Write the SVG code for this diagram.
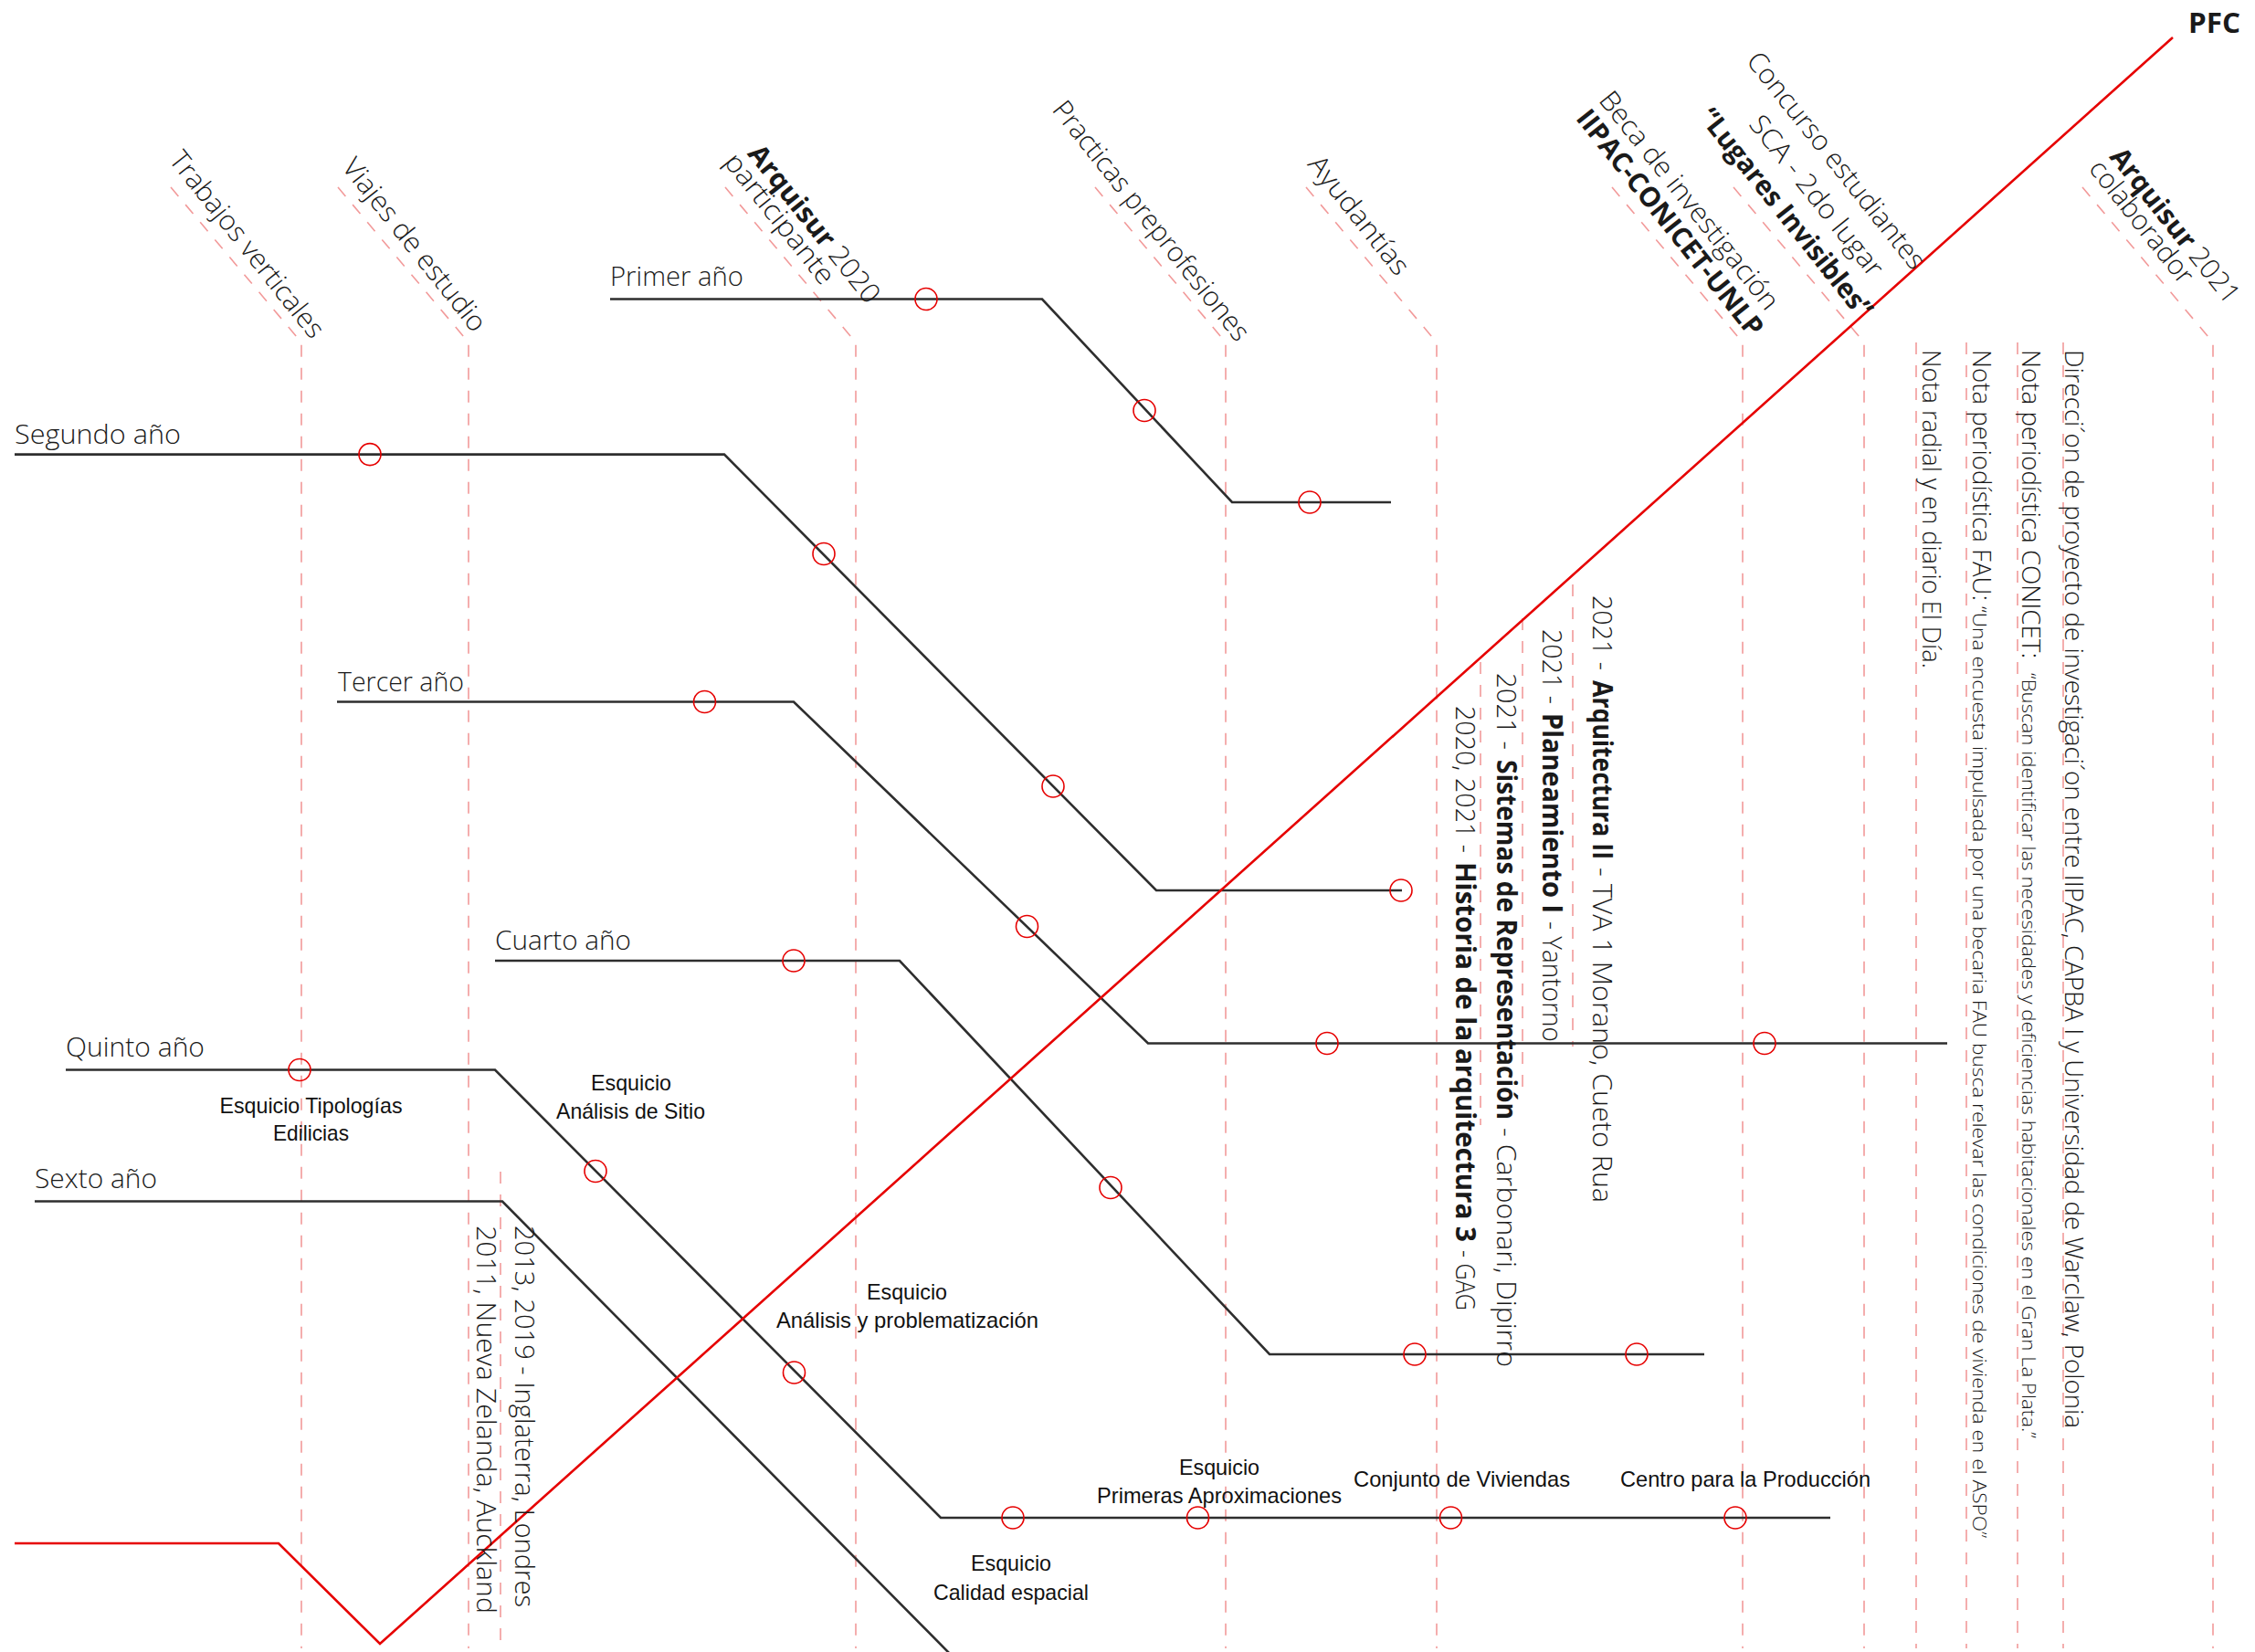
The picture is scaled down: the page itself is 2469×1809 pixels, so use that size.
<svg xmlns="http://www.w3.org/2000/svg" width="2469" height="1809" viewBox="0 0 2469 1809">
<style>
.guide{fill:none;stroke:#f29a9a;stroke-width:1.6;stroke-dasharray:13 12}
.yr{fill:none;stroke:#2e2e2e;stroke-width:2.6;stroke-linejoin:miter}
.pfc{fill:none;stroke:#e60000;stroke-width:2.6}
.dot{fill:none;stroke:#e60000;stroke-width:1.6}
text{font-family:"Open Sans","Liberation Sans",sans-serif;fill:#1a1a1a}
.lt{font-weight:300;font-size:30px}
.b{font-weight:700}
.esq{font-family:"Liberation Sans",sans-serif;font-size:24px;fill:#111;text-anchor:middle}
.vt{font-weight:300;font-size:30px}
.nt{font-weight:300;font-size:28px}
.sm{font-size:21px}
</style>

<g id="guides">
<path class="guide" d="M187,205 L330,375 V1805"/>
<path class="guide" d="M370,205 L513,375 V1805"/>
<path class="guide" d="M794,205 L937,375 V1805"/>
<path class="guide" d="M1199,205 L1342,375 V1805"/>
<path class="guide" d="M1430,205 L1573,375 V1805"/>
<path class="guide" d="M1765,205 L1908,375 V1805"/>
<path class="guide" d="M1898,205 L2041,375 V1805"/>
<path class="guide" d="M2280,205 L2423,375 V1805"/>
<path class="guide" d="M2098,375 V1805"/>
<path class="guide" d="M2153,375 V1805"/>
<path class="guide" d="M2209,375 V1805"/>
<path class="guide" d="M2259,375 V1805"/>
<path class="guide" d="M548,1283 V1805"/>
<path class="guide" d="M1722,640 V1146"/>
<path class="guide" d="M1667,677 V1190"/>
<path class="guide" d="M1621,725 V1232"/>
</g>

<g id="connectors">
<polyline id="line-primer" class="yr" points="668,327.5 1141,327.5 1349,550 1523,550"/>
<polyline id="line-segundo" class="yr" points="16,497.6 793,497.6 1266,975 1535,975"/>
<polyline id="line-tercer" class="yr" points="369,768.5 869,768.5 1257,1142.5 2132,1142.5"/>
<polyline id="line-cuarto" class="yr" points="542,1052 985,1052 1390,1483 1866,1483"/>
<polyline id="line-quinto" class="yr" points="72,1171.5 542,1171.5 1030,1662 2004,1662"/>
<polyline id="line-sexto" class="yr" points="38,1315.5 550,1315.5 1045,1816"/>
<polyline id="line-pfc" class="pfc" points="16,1690 305,1690 416,1800 2379,41"/>
</g>

<g id="milestones">
<circle class="dot" cx="1014" cy="327.5" r="12"/>
<circle class="dot" cx="1253" cy="449.5" r="12"/>
<circle class="dot" cx="1434" cy="550" r="12"/>
<circle class="dot" cx="405" cy="497.6" r="12"/>
<circle class="dot" cx="902" cy="606.5" r="12"/>
<circle class="dot" cx="1153" cy="861" r="12"/>
<circle class="dot" cx="1534" cy="975" r="12"/>
<circle class="dot" cx="771.5" cy="768.5" r="12"/>
<circle class="dot" cx="1124.5" cy="1014.5" r="12"/>
<circle class="dot" cx="1453" cy="1142.5" r="12"/>
<circle class="dot" cx="1932" cy="1142.5" r="12"/>
<circle class="dot" cx="869" cy="1052" r="12"/>
<circle class="dot" cx="1216" cy="1300.5" r="12"/>
<circle class="dot" cx="1549" cy="1483" r="12"/>
<circle class="dot" cx="1792" cy="1483" r="12"/>
<circle class="dot" cx="328" cy="1171.5" r="12"/>
<circle class="dot" cx="652" cy="1282.5" r="12"/>
<circle class="dot" cx="869.5" cy="1503" r="12"/>
<circle class="dot" cx="1109" cy="1662" r="12"/>
<circle class="dot" cx="1311.5" cy="1662" r="12"/>
<circle class="dot" cx="1588.5" cy="1662" r="12"/>
<circle class="dot" cx="1900" cy="1662" r="12"/>
</g>

<g id="year-labels">
<text class="lt" x="668" y="313" textLength="146" lengthAdjust="spacingAndGlyphs">Primer año</text>
<text class="lt" x="16" y="486" textLength="182" lengthAdjust="spacingAndGlyphs">Segundo año</text>
<text class="lt" x="370" y="757" textLength="138" lengthAdjust="spacingAndGlyphs">Tercer año</text>
<text class="lt" x="542" y="1040" textLength="149" lengthAdjust="spacingAndGlyphs">Cuarto año</text>
<text class="lt" x="72" y="1157" textLength="152" lengthAdjust="spacingAndGlyphs">Quinto año</text>
<text class="lt" x="38" y="1301" textLength="134" lengthAdjust="spacingAndGlyphs">Sexto año</text>
</g>

<g id="esquicios">
<text class="esq" x="340.5" y="1218.6" textLength="200" lengthAdjust="spacingAndGlyphs">Esquicio Tipologías</text>
<text class="esq" x="340.5" y="1249" textLength="83" lengthAdjust="spacingAndGlyphs">Edilicias</text>
<text class="esq" x="691" y="1194" textLength="88" lengthAdjust="spacingAndGlyphs">Esquicio</text>
<text class="esq" x="690.5" y="1225" textLength="163" lengthAdjust="spacingAndGlyphs">Análisis de Sitio</text>
<text class="esq" x="993" y="1422.6" textLength="88" lengthAdjust="spacingAndGlyphs">Esquicio</text>
<text class="esq" x="993.5" y="1454" textLength="287" lengthAdjust="spacingAndGlyphs">Análisis y problematización</text>
<text class="esq" x="1107" y="1720" textLength="88" lengthAdjust="spacingAndGlyphs">Esquicio</text>
<text class="esq" x="1107" y="1751.6" textLength="170" lengthAdjust="spacingAndGlyphs">Calidad espacial</text>
<text class="esq" x="1335" y="1615" textLength="88" lengthAdjust="spacingAndGlyphs">Esquicio</text>
<text class="esq" x="1335" y="1646" textLength="268" lengthAdjust="spacingAndGlyphs">Primeras Aproximaciones</text>
<text class="esq" x="1600.5" y="1628" textLength="237" lengthAdjust="spacingAndGlyphs">Conjunto de Viviendas</text>
<text class="esq" x="1911" y="1628" textLength="274" lengthAdjust="spacingAndGlyphs">Centro para la Producción</text>
</g>

<g id="headers">
<g id="h-trabajos" transform="translate(330,375) rotate(51.5)">
<text class="lt" x="-247" y="-10" textLength="252" lengthAdjust="spacingAndGlyphs">Trabajos verticales</text>
</g>
<g id="h-viajes" transform="translate(513,375) rotate(51.5)">
<text class="lt" x="-237" y="-10" textLength="233" lengthAdjust="spacingAndGlyphs">Viajes de estudio</text>
</g>
<g id="h-arquisur2020" transform="translate(937,375) rotate(51.5)">
<text class="lt" x="-236" y="-35" textLength="212" lengthAdjust="spacingAndGlyphs"><tspan class="b">Arquisur</tspan> 2020</text>
<text class="lt" x="-245" y="-9" textLength="174" lengthAdjust="spacingAndGlyphs">participante</text>
</g>
<g id="h-practicas" transform="translate(1342,375) rotate(51.5)">
<text class="lt" x="-318" y="-9" textLength="326" lengthAdjust="spacingAndGlyphs">Practicas preprofesiones</text>
</g>
<g id="h-ayudantias" transform="translate(1573,375) rotate(51.5)">
<text class="lt" x="-241" y="-10" textLength="158" lengthAdjust="spacingAndGlyphs">Ayudantías</text>
</g>
<g id="h-beca" transform="translate(1908,375) rotate(51.5)">
<text class="lt" x="-306" y="-41" textLength="296" lengthAdjust="spacingAndGlyphs">Beca de investigación</text>
<text class="lt b" x="-306" y="-9" textLength="308" lengthAdjust="spacingAndGlyphs">IIPAC-CONICET-UNLP</text>
</g>
<g id="h-concurso" transform="translate(2041,375) rotate(51.5)">
<text class="lt" x="-322" y="-90" textLength="294" lengthAdjust="spacingAndGlyphs">Concurso estudiantes</text>
<text class="lt" x="-266" y="-49" textLength="216" lengthAdjust="spacingAndGlyphs">SCA - 2do lugar</text>
<text class="lt b" x="-306" y="-11" textLength="284" lengthAdjust="spacingAndGlyphs">“Lugares Invisibles”</text>
</g>
<g id="h-arquisur2021" transform="translate(2423,375) rotate(51.5)">
<text class="lt" x="-230" y="-37" textLength="208" lengthAdjust="spacingAndGlyphs"><tspan class="b">Arquisur</tspan> 2021</text>
<text class="lt" x="-234" y="-11" textLength="164" lengthAdjust="spacingAndGlyphs">colaborador</text>
</g>
<g id="h-pfc">
<text x="2396" y="36" font-size="30" font-weight="700" textLength="57" lengthAdjust="spacingAndGlyphs">PFC</text>
</g>
</g>

<g id="viajes-detalle">
<text class="vt" transform="translate(564,0) rotate(90)" x="1342" y="0" textLength="418" lengthAdjust="spacingAndGlyphs">2013, 2019 - Inglaterra, Londres</text>
<text class="vt" transform="translate(522,0) rotate(90)" x="1342" y="0" textLength="425" lengthAdjust="spacingAndGlyphs">2011, Nueva Zelanda, Auckland</text>
</g>

<g id="ayudantias-detalle">
<text class="vt" transform="translate(1744,0) rotate(90)"><tspan x="652" y="0" textLength="82" lengthAdjust="spacingAndGlyphs">2021 -</tspan><tspan class="b" x="745" y="0" textLength="196" lengthAdjust="spacingAndGlyphs">Arquitectura II</tspan><tspan x="950" y="0" textLength="367" lengthAdjust="spacingAndGlyphs">- TVA 1 Morano, Cueto Rua</tspan></text>
<text class="vt" transform="translate(1689,0) rotate(90)"><tspan x="689" y="0" textLength="82" lengthAdjust="spacingAndGlyphs">2021 -</tspan><tspan class="b" x="781" y="0" textLength="219" lengthAdjust="spacingAndGlyphs">Planeamiento I</tspan><tspan x="1009" y="0" textLength="132" lengthAdjust="spacingAndGlyphs">- Yantorno</tspan></text>
<text class="vt" transform="translate(1639,0) rotate(90)"><tspan x="737" y="0" textLength="84" lengthAdjust="spacingAndGlyphs">2021 -</tspan><tspan class="b" x="832" y="0" textLength="394" lengthAdjust="spacingAndGlyphs">Sistemas de Representación</tspan><tspan x="1235" y="0" textLength="262" lengthAdjust="spacingAndGlyphs">- Carbonari, Dipirro</tspan></text>
<text class="vt" transform="translate(1594,0) rotate(90)"><tspan x="773" y="0" textLength="161" lengthAdjust="spacingAndGlyphs">2020, 2021 -</tspan><tspan class="b" x="944" y="0" textLength="416" lengthAdjust="spacingAndGlyphs">Historia de la arquitectura 3</tspan><tspan x="1369" y="0" textLength="66" lengthAdjust="spacingAndGlyphs">- GAG</tspan></text>
</g>

<g id="notas">
<text class="nt" transform="translate(2105,0) rotate(90)" x="383" y="0" textLength="349" lengthAdjust="spacingAndGlyphs">Nota radial y en diario El Día.</text>
<text class="nt" transform="translate(2160,0) rotate(90)"><tspan x="383" y="0" textLength="275" lengthAdjust="spacingAndGlyphs">Nota periodística  FAU:</tspan><tspan class="sm" x="664" y="0" textLength="1020" lengthAdjust="spacingAndGlyphs">“Una encuesta impulsada por una becaria FAU busca relevar las condiciones de vivienda en el ASPO”</tspan></text>
<text class="nt" transform="translate(2214,0) rotate(90)"><tspan x="383" y="0" textLength="338" lengthAdjust="spacingAndGlyphs">Nota periodística  CONICET:</tspan><tspan class="sm" x="737" y="0" textLength="838" lengthAdjust="spacingAndGlyphs">“Buscan identificar las necesidades y deficiencias habitacionales en el Gran La Plata.”</tspan></text>
<text class="nt" transform="translate(2261,0) rotate(90)" x="383" y="0" font-size="31" textLength="1181" lengthAdjust="spacingAndGlyphs">Direcci´on de proyecto de investigaci´on entre IIPAC, CAPBA I y Universidad de Warclaw, Polonia</text>
</g>
</svg>
